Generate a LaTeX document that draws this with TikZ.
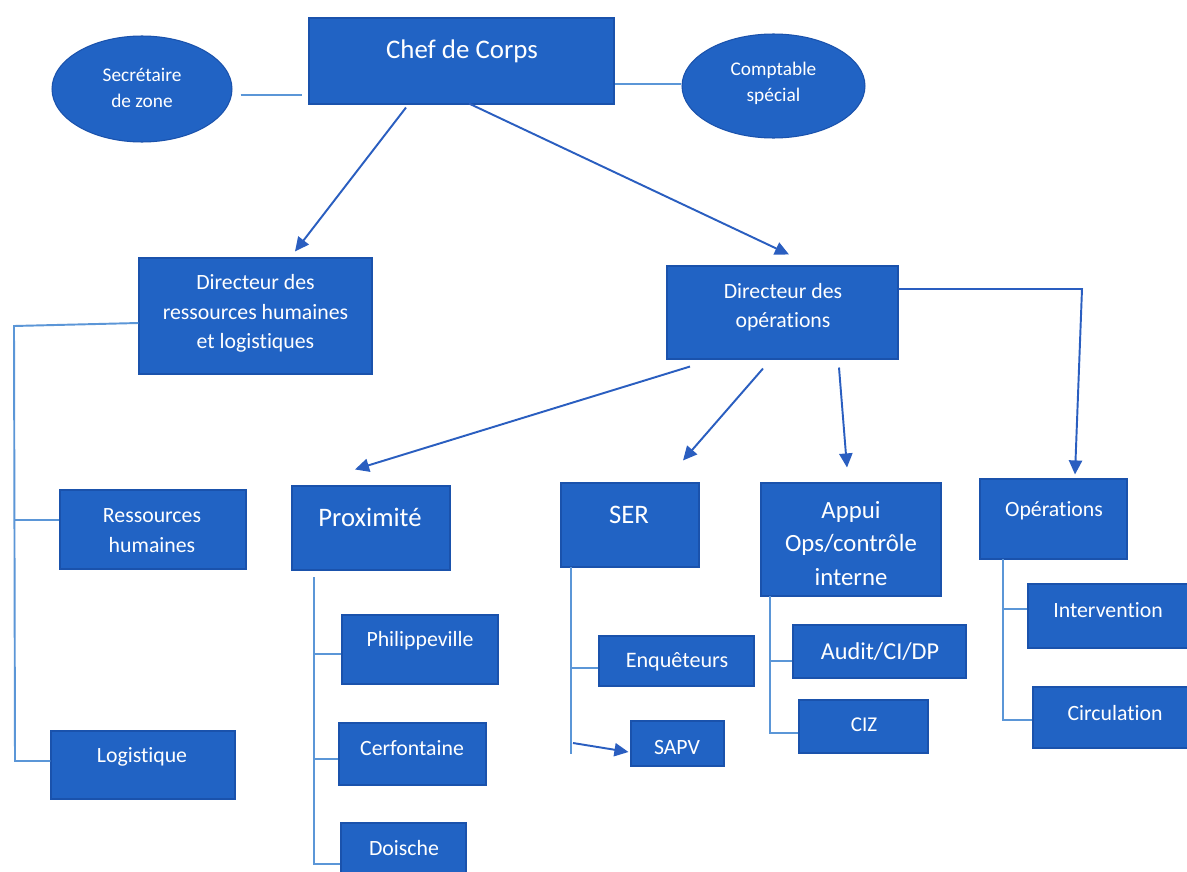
\documentclass[tikz,border=0pt]{standalone}
\usepackage{fontspec}
\setmainfont{Carlito}[Ligatures={NoCommon,NoDiscretionary,NoRare}]
\usetikzlibrary{arrows.meta,calc,fit,shapes.geometric}
\definecolor{boxblue}{RGB}{33,99,196}
\definecolor{boxedge}{RGB}{26,82,172}
\definecolor{lineblue}{RGB}{91,150,215}
\definecolor{arrowblue}{RGB}{42,94,192}
\tikzset{
  bx/.style={fill=boxblue, draw=boxedge, line width=0.6pt, inner sep=0pt},
  el/.style={ellipse, fill=boxblue, draw=boxedge, line width=0.6pt, inner sep=0pt},
  tx/.style={text=white, font=\fontsize{12.4}{16.7}\selectfont, align=center, inner sep=0pt},
  big/.style={font=\fontsize{15.2}{19}\selectfont},
  small/.style={font=\fontsize{11}{14.7}\selectfont},
  ln/.style={draw=lineblue, line width=1.1pt},
  arr/.style={draw=arrowblue, line width=1.1pt, -{Triangle[length=8pt,width=7.5pt]}},
}
\begin{document}
\begin{tikzpicture}[x=0.02cm, y=-0.02cm]
\useasboundingbox (0,0) rectangle (1187,872);
\clip (0,0) rectangle (1187,872);
\fill[white] (0,0) rectangle (1187,872);

% boxes
\node[bx, fit={(309,18)(614,104)}] (chef) {};
\node[el, minimum width=3.6cm, minimum height=2.12cm] (sec) at (142,89) {};
\node[el, minimum width=3.66cm, minimum height=2.08cm] (comp) at (773.5,86) {};
\node[bx, fit={(139,258)(372,374)}] (drh) {};
\node[bx, fit={(667,266)(898,359)}] (dop) {};
\node[bx, fit={(60,490)(246,569)}] (rh) {};
\node[bx, fit={(51,731)(235,799)}] (logi) {};
\node[bx, fit={(292,486)(450,570)}] (prox) {};
\node[bx, fit={(342,615)(498,684)}] (phil) {};
\node[bx, fit={(339,723)(486,785)}] (cerf) {};
\node[bx, fit={(341,823)(466,890)}] (doi) {};
\node[bx, fit={(561,483)(699,567)}] (ser) {};
\node[bx, fit={(599,636)(754,686)}] (enq) {};
\node[bx, fit={(631,721)(724,766)}] (sapv) {};
\node[bx, fit={(761,483)(941,596)}] (appui) {};
\node[bx, fit={(793,625)(966,678)}] (audit) {};
\node[bx, fit={(799,700)(928,753)}] (ciz) {};
\node[bx, fit={(980,479)(1127,559)}] (ops) {};
\node[bx, fit={(1028,584)(1200,648)}] (interv) {};
\node[bx, fit={(1033,687)(1200,748)}] (circ) {};

% texts
\node[tx, font=\fontsize{15.3}{19}\selectfont] (tchef) at (462,51) {Chef de Corps};
\node[tx, small] (tsec) at (142,88) {Secrétaire\\de zone};
\node[tx, small] (tcomp) at (773.5,83) {Comptable\\spécial};
\node[tx] (tdrh) at (255.5,313.5) {Directeur des\\ressources humaines\\et logistiques};
\node[tx] (tdop) at (783,307) {Directeur des\\opérations};
\node[tx] (trh) at (152,530.5) {Ressources\\humaines};
\node[tx] (tlogi) at (142,757) {Logistique};
\node[tx, big] (tprox) at (370,517) {Proximité};
\node[tx] (tphil) at (420,641) {Philippeville};
\node[tx] (tcerf) at (412,748) {Cerfontaine};
\node[tx] (tdoi) at (404,848) {Doische};
\node[tx, big] (tser) at (629,515) {SER};
\node[tx, font=\fontsize{12.6}{16.7}\selectfont] (tenq) at (677,662) {Enquêteurs};
\node[tx] (tsapv) at (677,747) {SAPV};
\node[tx, font=\fontsize{14.1}{19}\selectfont] (tappui) at (851,543.5) {Appui\\Ops/contrôle\\interne};
\node[tx, font=\fontsize{13.8}{17}\selectfont] (taudit) at (880,652) {Audit/CI/DP};
\node[tx, font=\fontsize{12}{16}\selectfont] (tciz) at (864,725) {CIZ};
\node[tx] (tops) at (1054,511) {Opérations};
\node[tx] (tinterv) at (1108,610) {Intervention};
\node[tx] (tcirc) at (1115,713) {Circulation};

% top connectors
\draw[ln] ($(sec.east)+(8,6)$) -- ($(chef.west)+(-6,34)$);
\draw[ln] ($(chef.east)+(0,23)$) -- ($(comp.west)+(0,-2)$);
\draw[arr] ($(chef.south)+(-55.5,3)$) -- ($(drh.north)+(39.5,-6)$);
\draw[arr] ($(chef.south)+(7.5,-1)$) -- ($(dop.north)+(6.5,-11)$);

% operations director
\coordinate (opc) at (1082,289);
\draw[arr] ($(dop.south)+(-92.5,7)$) -- ($(prox.north)+(-16,-16)$);
\draw[arr] ($(dop.south)+(-19.5,9)$) -- ($(ser.north)+(53,-22)$);
\draw[arr] ($(dop.south)+(56.5,8)$) -- ($(appui.north)+(-4,-15)$);
\draw[arr] ($(dop.east)+(0,-23.5)$) -- (opc) -- ($(ops.north)+(21.5,-4)$);

% DRH tree
\coordinate (s1) at (14,326);
\coordinate (s1b) at (15,761);
\draw[ln] ($(drh.west)+(0,7)$) -- (s1) -- (s1b) -- (s1b -| logi.west);
\draw[ln] ($(rh.west)+(0,-9.5)$) -- ++(-45,0);

% Proximite tree
\coordinate (p1) at (314,577);
\coordinate (p2) at (314,864);
\draw[ln] (p1) -- (p2) -- (p2 -| doi.west);
\draw[ln] ($(phil.west)+(0,4.5)$) -- ++(-28,0);
\draw[ln] ($(cerf.west)+(0,5)$) -- ++(-25,0);

% SER tree
\coordinate (q1) at (571,567);
\coordinate (q2) at (571,754);
\draw[ln] (q1) -- (q2);
\draw[ln] ($(enq.west)+(0,7)$) -- ++(-28,0);
\draw[arr] ($(q2)+(2,-11)$) -- ($(sapv.west)+(-2,8.5)$);

% Appui tree
\coordinate (a1) at (770,596);
\coordinate (a2) at (770,733);
\draw[ln] (a1) -- (a2) -- (a2 -| ciz.west);
\draw[ln] ($(audit.west)+(0,9.5)$) -- ++(-23,0);

% Operations tree
\coordinate (o1) at (1003,559);
\coordinate (o2) at (1003,720);
\draw[ln] (o1) -- (o2) -- (o2 -| circ.west);
\draw[ln] ($(interv.west)+(0,-7)$) -- ++(-25,0);
\end{tikzpicture}
\end{document}
